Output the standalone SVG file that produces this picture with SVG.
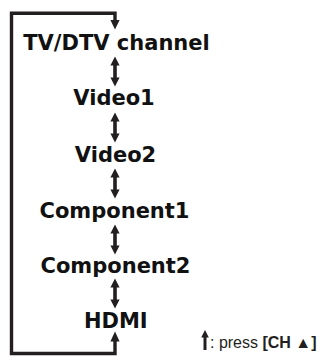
<svg xmlns="http://www.w3.org/2000/svg" xmlns:xlink="http://www.w3.org/1999/xlink" width="325" height="356" viewBox="0 0 325 356">
  <style>
    .node { font-family: "DejaVu Sans", "Liberation Sans", sans-serif; font-weight: bold; font-size: 21px; fill: #111; text-anchor: middle; }
    .loop { fill: none; stroke: #231f20; stroke-width: 3.4; stroke-linejoin: miter; }
    .arr { fill: #231f20; }
    .legend { font-family: "Liberation Sans", Arial, sans-serif; font-size: 16px; fill: #231f20; }
    .legend .b { font-weight: bold; }
  </style>
  <defs>
    <path id="dbl" d="M0,0 L4.6,9 L1.8,9 L1.8,21 L4.6,21 L0,30 L-4.6,21 L-1.8,21 L-1.8,9 L-4.6,9 Z"/>
  </defs>
  <rect width="325" height="356" fill="#fff"/>

  <g id="connectors">
    <polyline class="loop" points="115,21 115,13.3 11.5,13.3 11.5,353.5 115,353.5 115,340"/>
    <polygon class="arr" points="110.4,20 119.6,20 115,29.5"/>
    <polygon class="arr" points="110.4,341.5 119.6,341.5 115,331.5"/>
    <use class="arr" xlink:href="#dbl" href="#dbl" x="115" y="56.5"/>
    <use class="arr" xlink:href="#dbl" href="#dbl" x="115" y="112.5"/>
    <use class="arr" xlink:href="#dbl" href="#dbl" x="115" y="168.5"/>
    <use class="arr" xlink:href="#dbl" href="#dbl" x="115" y="224.5"/>
    <use class="arr" xlink:href="#dbl" href="#dbl" x="115" y="278.5"/>
  </g>

  <g id="node-tvdtv"><text class="node" x="116.5" y="49.7">TV/DTV channel</text></g>
  <g id="node-video1"><text class="node" x="114" y="105.4">Video1</text></g>
  <g id="node-video2"><text class="node" x="115.5" y="161.5">Video2</text></g>
  <g id="node-component1"><text class="node" x="114.5" y="217.5">Component1</text></g>
  <g id="node-component2"><text class="node" x="115.5" y="273">Component2</text></g>
  <g id="node-hdmi"><text class="node" x="115.8" y="328.3">HDMI</text></g>

  <g id="legend">
    <path class="arr" d="M205,330 L208.8,337.5 L206.5,337.5 L206.5,350 L203.5,350 L203.5,337.5 L201.2,337.5 Z"/>
    <text class="legend" x="210" y="347.5">: press <tspan class="b">[CH ▲]</tspan></text>
  </g>
</svg>
